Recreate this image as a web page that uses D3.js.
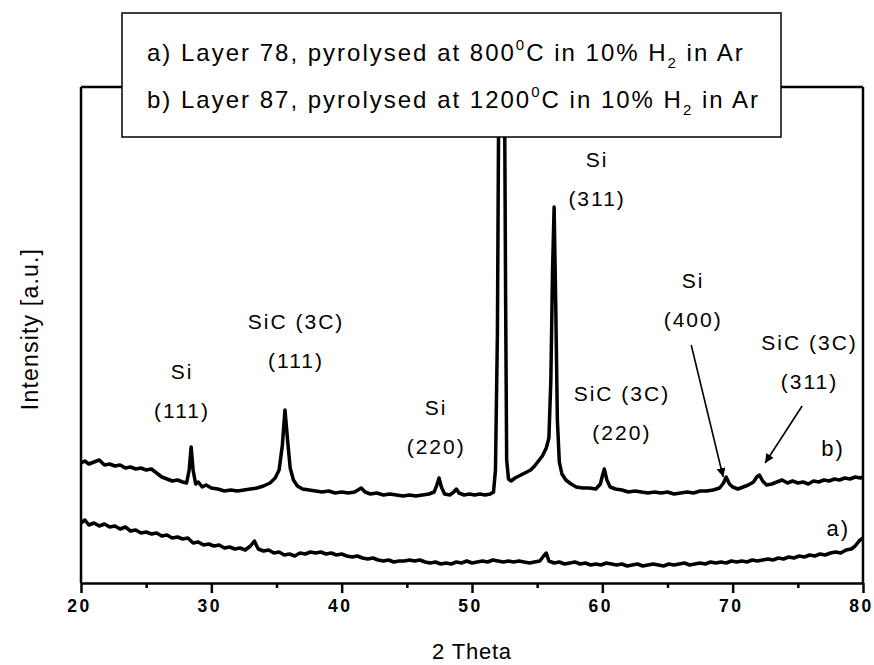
<!DOCTYPE html>
<html>
<head>
<meta charset="utf-8">
<script src="https://cdn.jsdelivr.net/npm/d3@7"></script>
<style>
  body { margin: 0; background: #fff; }
  #chart-area { width: 874px; height: 665px; }
  text { font-family: "Liberation Sans", Arial, sans-serif; fill: #000; }
  .tick-label { font-family: "Liberation Sans", Arial, sans-serif; font-weight: bold; font-size: 17.5px; letter-spacing: 2.5px; }
  .note { font-size: 21px; letter-spacing: 2px; }
  .legend-text { font-size: 24px; letter-spacing: 2px; }
  .axis-title { font-size: 22px; letter-spacing: 0.8px; }
</style>
</head>
<body>
<div id="chart-area"></div>
<script>
// 2 theta (deg) and intensity (a.u.)
const thetaB = [20.0, 20.3, 20.6, 21.0, 21.4, 21.8, 22.2, 22.6, 23.0, 23.4, 23.8, 24.2, 24.6, 25.0, 25.4, 25.8, 26.2, 26.6, 27.0, 27.4, 27.8, 28.1, 28.3, 28.45, 28.6, 28.8, 29.0, 29.3, 29.6, 30.0, 30.5, 31.0, 31.5, 32.0, 32.5, 33.0, 33.5, 34.0, 34.5, 34.9, 35.2, 35.45, 35.65, 35.85, 36.05, 36.3, 36.6, 37.0, 37.5, 38.0, 38.5, 39.0, 39.5, 40.0, 40.5, 41.0, 41.5, 41.8, 42.2, 42.7, 43.2, 43.7, 44.2, 44.7, 45.2, 45.7, 46.2, 46.7, 47.1, 47.3, 47.47, 47.65, 47.9, 48.3, 48.6, 48.8, 49.0, 49.4, 49.8, 50.2, 50.6, 51.0, 51.4, 51.65, 51.8, 51.95, 52.05, 52.3, 52.5, 52.58, 52.66, 52.8, 53.0, 53.3, 53.6, 53.9, 54.2, 54.5, 54.8, 55.1, 55.4, 55.7, 55.9, 56.05, 56.18, 56.3, 56.42, 56.55, 56.7, 56.9, 57.2, 57.6, 58.0, 58.5, 59.0, 59.5, 59.85, 60.0, 60.15, 60.35, 60.6, 61.0, 61.5, 62.0, 62.5, 63.0, 63.5, 64.0, 64.5, 65.0, 65.5, 66.0, 66.5, 67.0, 67.5, 68.0, 68.5, 69.0, 69.3, 69.5, 69.75, 70.0, 70.4, 70.8, 71.2, 71.6, 71.85, 72.05, 72.3, 72.6, 73.0, 73.4, 73.8, 74.2, 74.6, 75.0, 75.4, 75.8, 76.2, 76.6, 77.0, 77.4, 77.8, 78.2, 78.6, 79.0, 79.4, 79.8, 80.0];
const intensityB = [120, 122, 119, 121, 123, 118, 119, 117, 118, 115, 116, 114, 115, 113, 114, 110, 106, 104, 102, 103, 101, 100, 113, 136, 113, 99, 101, 96, 98, 95, 94, 92, 93, 92, 93, 94, 95, 97, 100, 105, 113, 138, 173, 143, 115, 103, 97, 94, 93, 92, 91, 92, 90, 91, 90, 91, 95, 91, 89, 90, 88, 89, 88, 87, 88, 87, 88, 89, 91, 98, 105, 96, 89, 88, 91, 94, 90, 88, 89, 88, 89, 88, 89, 91, 113, 250, 483, 553, 483, 283, 123, 104, 102, 105, 107, 109, 111, 113, 117, 122, 127, 135, 145, 203, 313, 376, 283, 163, 121, 109, 103, 99, 96, 95, 95, 94, 99, 107, 114, 103, 96, 94, 93, 91, 92, 91, 90, 91, 90, 91, 89, 90, 91, 90, 92, 92, 93, 95, 100, 106, 99, 96, 94, 96, 98, 101, 106, 108, 102, 98, 99, 101, 103, 100, 102, 100, 101, 99, 102, 101, 103, 102, 104, 103, 105, 104, 106, 105, 106];

const thetaA = [20.0, 20.3, 20.6, 21.0, 21.4, 21.8, 22.2, 22.6, 23.0, 23.4, 23.8, 24.2, 24.6, 25.0, 25.4, 25.8, 26.2, 26.6, 27.0, 27.4, 27.8, 28.2, 28.6, 29.0, 29.4, 29.8, 30.2, 30.6, 31.0, 31.4, 31.8, 32.2, 32.6, 33.0, 33.3, 33.6, 34.0, 34.4, 34.8, 35.2, 35.6, 36.0, 36.4, 36.8, 37.2, 37.6, 38.0, 38.4, 38.8, 39.2, 39.6, 40.0, 40.4, 40.8, 41.2, 41.6, 42.0, 42.4, 42.8, 43.2, 43.6, 44.0, 44.4, 44.8, 45.2, 45.6, 46.0, 46.4, 46.8, 47.2, 47.6, 48.0, 48.4, 48.8, 49.2, 49.6, 50.0, 50.4, 50.8, 51.2, 51.6, 52.0, 52.4, 52.8, 53.2, 53.6, 54.0, 54.4, 54.8, 55.2, 55.5, 55.7, 55.9, 56.3, 56.7, 57.1, 57.5, 57.9, 58.3, 58.7, 59.1, 59.5, 59.9, 60.3, 60.7, 61.1, 61.5, 61.9, 62.3, 62.7, 63.1, 63.5, 63.9, 64.3, 64.7, 65.1, 65.5, 65.9, 66.3, 66.7, 67.1, 67.5, 67.9, 68.3, 68.7, 69.1, 69.5, 69.9, 70.3, 70.7, 71.1, 71.5, 71.9, 72.3, 72.7, 73.1, 73.5, 73.9, 74.3, 74.7, 75.1, 75.5, 75.9, 76.3, 76.7, 77.1, 77.5, 77.9, 78.3, 78.7, 79.1, 79.4, 79.7, 80.0];
const intensityA = [60, 63, 58, 60, 57, 59, 56, 57, 54, 56, 52, 53, 50, 51, 49, 50, 47, 48, 45, 46, 44, 45, 40, 41, 38, 39, 37, 38, 35, 36, 34, 35, 33, 37, 42, 34, 32, 33, 30, 31, 28, 29, 27, 30, 29, 31, 30, 31, 29, 30, 28, 29, 27, 26, 27, 25, 24, 25, 23, 22, 23, 21, 22, 22, 23, 22, 23, 21, 20, 21, 19, 20, 19, 21, 20, 22, 20, 21, 22, 21, 23, 22, 21, 22, 21, 22, 21, 20, 21, 22, 27, 30, 22, 20, 21, 19, 20, 21, 19, 20, 18, 19, 18, 20, 19, 18, 19, 17, 18, 19, 17, 18, 19, 18, 17, 19, 18, 19, 20, 18, 19, 20, 19, 21, 20, 21, 20, 22, 21, 22, 21, 23, 22, 23, 24, 23, 25, 24, 26, 25, 27, 26, 28, 27, 29, 28, 30, 31, 30, 33, 34, 37, 42, 45];

const xTicks = [20, 30, 40, 50, 60, 70, 80];
const xMinorTicks = [25, 35, 45, 55, 65, 75];

const legendLines = [
  { tag: "a) Layer 78, pyrolysed at ", temp: "800", gas: "in 10% H", rest: " in Ar" },
  { tag: "b) Layer 87, pyrolysed at ", temp: "1200", gas: "in 10% H", rest: " in Ar" }
];

// peak notes: [label line 1, label line 2, 2theta, intensity]
const notes = [
  ["Si", "(111)", 27.75, 211],
  ["SiC (3C)", "(111)", 36.5, 261],
  ["Si", "(220)", 47.25, 175],
  ["Si", "(311)", 59.6, 423],
  ["Si", "(400)", 66.97, 302],
  ["SiC (3C)", "(220)", 61.5, 189],
  ["SiC (3C)", "(311)", 75.9, 240]
];
const curveTags = [["b)", 77.7, 135], ["a)", 78.1, 55]];
// arrows: from [2theta, I] to [2theta, I]
const arrows = [
  [[66.82, 238], [69.27, 106]],
  [[75.33, 177], [72.49, 120]]
];

const width = 874, height = 665;
const margin = { top: 87, right: 11, bottom: 82, left: 81 };

const svg = d3.select("#chart-area").append("svg")
  .attr("width", width).attr("height", height);

const x = d3.scaleLinear().domain([20, 80]).range([margin.left, width - margin.right]);
const y = d3.scaleLinear().domain([0, 496]).range([height - margin.bottom, margin.top]);

svg.append("defs").append("marker")
  .attr("id", "arrow")
  .attr("viewBox", "0 0 10 10")
  .attr("refX", 10).attr("refY", 5)
  .attr("markerWidth", 9).attr("markerHeight", 9)
  .attr("markerUnits", "userSpaceOnUse")
  .attr("orient", "auto")
  .append("path").attr("d", "M0,0 L10,5 L0,10 Z").attr("fill", "#000");

// curves
const line = d3.line().x(d => x(d[0])).y(d => y(d[1]));
const series = [
  d3.zip(thetaB, intensityB),
  d3.zip(thetaA, intensityA)
];
svg.selectAll(".curve").data(series).enter().append("path")
  .attr("class", "curve")
  .attr("d", line)
  .attr("fill", "none")
  .attr("stroke", "#000")
  .attr("stroke-width", 3.5)
  .attr("stroke-linejoin", "round");

// frame
const y0 = y.range()[0], y1 = y.range()[1];
svg.append("line").attr("x1", x(20)).attr("x2", x(80)).attr("y1", y1).attr("y2", y1)
  .attr("stroke", "#000").attr("stroke-width", 2.5);
svg.append("line").attr("x1", x(20)).attr("x2", x(20)).attr("y1", y1).attr("y2", y0)
  .attr("stroke", "#000").attr("stroke-width", 2.5);
svg.append("line").attr("x1", x(80)).attr("x2", x(80)).attr("y1", y1).attr("y2", y0)
  .attr("stroke", "#000").attr("stroke-width", 2.5);

// x axis
const xAxis = svg.append("g").attr("transform", `translate(0,${y0})`)
  .call(d3.axisBottom(x).tickValues(xTicks).tickSize(10).tickSizeOuter(0).tickPadding(7));
xAxis.select(".domain").attr("stroke-width", 2.5);
xAxis.selectAll(".tick line").attr("stroke-width", 2.5);
xAxis.selectAll(".tick text").attr("class", "tick-label").attr("dx", "-2px")
  .attr("font-size", null).attr("font-family", null);

const xMinor = svg.append("g").attr("transform", `translate(0,${y0})`)
  .call(d3.axisBottom(x).tickValues(xMinorTicks).tickSize(5).tickSizeOuter(0).tickFormat(""));
xMinor.select(".domain").remove();
xMinor.selectAll(".tick line").attr("stroke-width", 2.5);

// axis titles
svg.append("text").attr("class", "axis-title")
  .attr("x", x(50)).attr("y", 659).attr("text-anchor", "middle")
  .text("2 Theta");
svg.append("text").attr("class", "axis-title")
  .style("font-size", "23px").style("letter-spacing", "1.2px")
  .attr("transform", `translate(38,329) rotate(-90)`)
  .attr("text-anchor", "middle")
  .text("Intensity [a.u.]");

// peak notes
const noteG = svg.selectAll(".note-g").data(notes).enter().append("g");
noteG.append("text").attr("class", "note")
  .attr("x", d => x(d[2])).attr("y", d => y(d[3]) + 7)
  .attr("text-anchor", "middle").text(d => d[0]);
noteG.append("text").attr("class", "note")
  .attr("x", d => x(d[2])).attr("y", d => y(d[3]) + 46)
  .attr("text-anchor", "middle").text(d => d[1]);

svg.selectAll(".tag").data(curveTags).enter().append("text")
  .attr("class", "note").style("font-size", "22px")
  .attr("x", d => x(d[1])).attr("y", d => y(d[2]) + 8)
  .attr("text-anchor", "middle").text(d => d[0]);

svg.selectAll(".arrow").data(arrows).enter().append("line")
  .attr("x1", d => x(d[0][0])).attr("y1", d => y(d[0][1]))
  .attr("x2", d => x(d[1][0])).attr("y2", d => y(d[1][1]))
  .attr("stroke", "#000").attr("stroke-width", 1.6)
  .attr("marker-end", "url(#arrow)");

// legend box
const legend = svg.append("g");
legend.append("rect")
  .attr("x", 122).attr("y", 13).attr("width", 659).attr("height", 124)
  .attr("fill", "#fff").attr("stroke", "#000").attr("stroke-width", 1.5);

const lt = legend.selectAll(".legend-text").data(legendLines).enter().append("text")
  .attr("class", "legend-text")
  .attr("x", 147).attr("y", (d, i) => 61 + i * 47);
lt.append("tspan").text(d => d.tag + d.temp);
lt.append("tspan").attr("dy", -11).style("font-size", "15px").text("0");
lt.append("tspan").attr("dy", 11).text(d => "C " + d.gas);
lt.append("tspan").attr("dy", 7).style("font-size", "15px").text("2");
lt.append("tspan").attr("dy", -7).text(d => d.rest);
</script>
</body>
</html>
